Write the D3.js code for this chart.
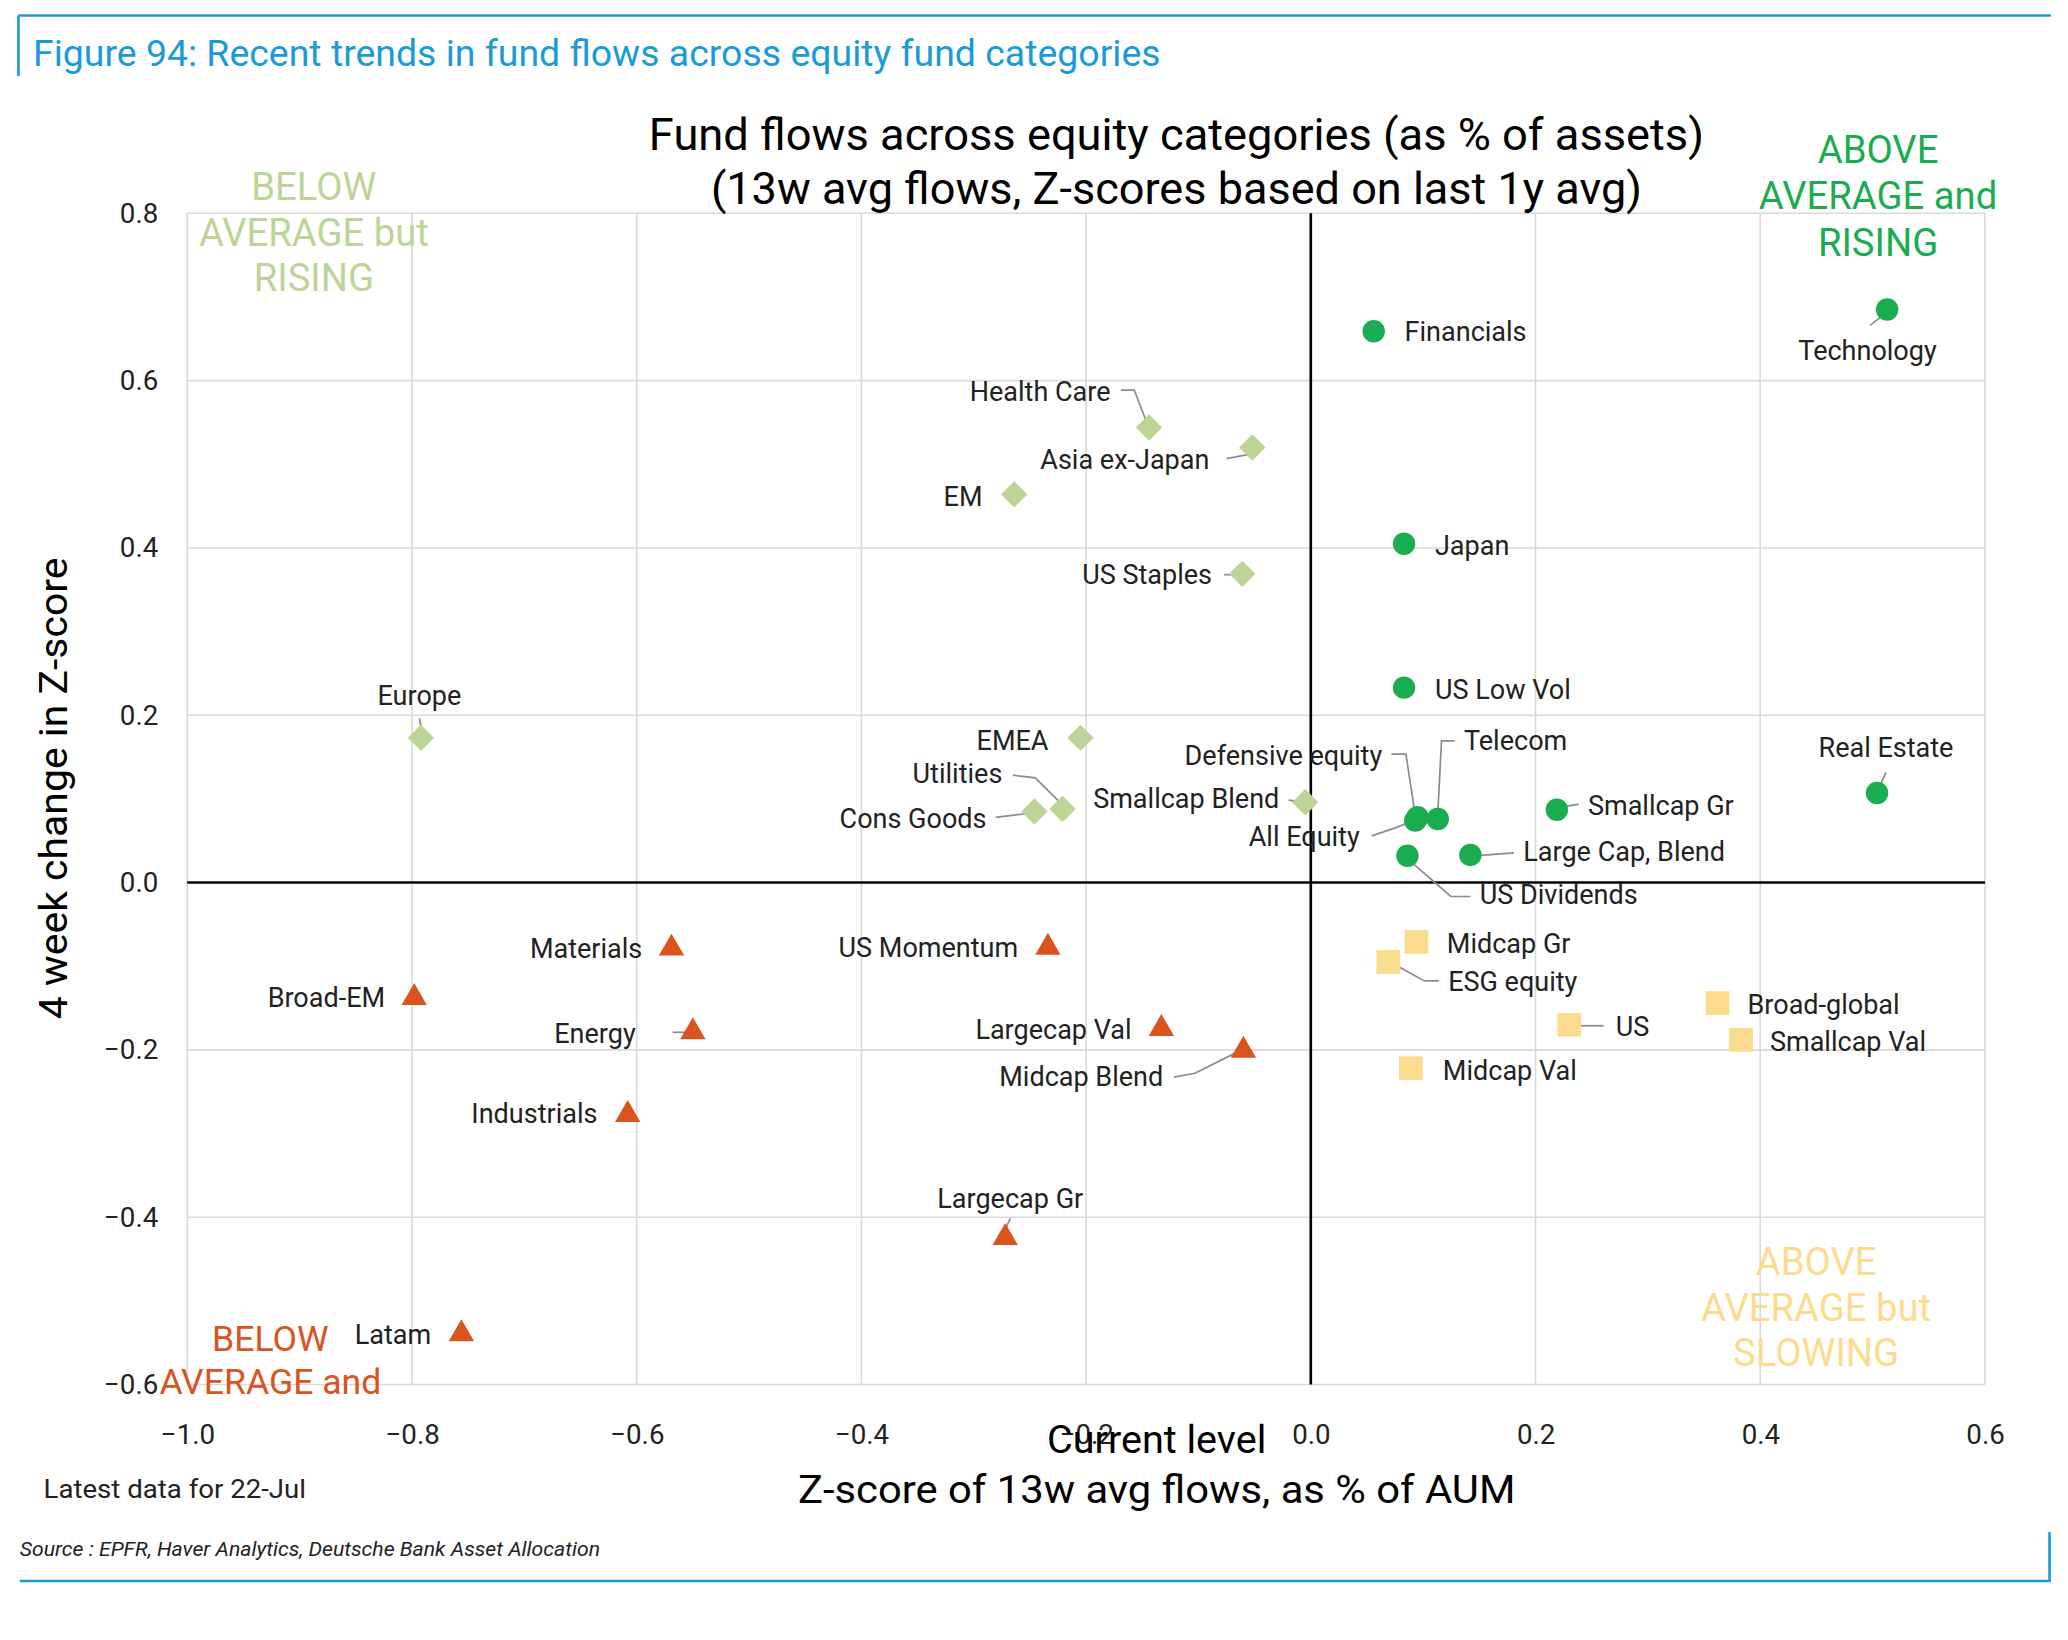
<!DOCTYPE html>
<html><head><meta charset="utf-8">
<script src="https://cdn.jsdelivr.net/npm/d3@7"></script>
<style>body{margin:0;background:#fff}svg{display:block}text{font-family:Roboto,"Liberation Sans",sans-serif}</style>
</head><body>
<script>
// Data: [name, x, y]
const risingAbove = [["Technology",0.513,0.685],["Financials",0.056,0.659],["Japan",0.083,0.405],["US Low Vol",0.083,0.233],["Real Estate",0.504,0.107],["Smallcap Gr",0.219,0.087],["Defensive equity",0.095,0.078],["All Equity",0.093,0.074],["Telecom",0.113,0.076],["Large Cap, Blend",0.142,0.033],["US Dividends",0.086,0.032]];
const risingBelow = [["Health Care",-0.144,0.544],["Asia ex-Japan",-0.052,0.520],["EM",-0.264,0.464],["US Staples",-0.061,0.369],["Europe",-0.792,0.173],["EMEA",-0.205,0.173],["Utilities",-0.221,0.088],["Cons Goods",-0.246,0.085],["Smallcap Blend",-0.005,0.096]];
const fallingBelow = [["Materials",-0.569,-0.077],["US Momentum",-0.234,-0.076],["Broad-EM",-0.798,-0.136],["Energy",-0.550,-0.177],["Largecap Val",-0.133,-0.173],["Midcap Blend",-0.060,-0.199],["Industrials",-0.608,-0.276],["Largecap Gr",-0.272,-0.423],["Latam",-0.756,-0.538]];
const slowingAbove = [["Midcap Gr",0.094,-0.071],["ESG equity",0.069,-0.095],["US",0.230,-0.170],["Broad-global",0.362,-0.144],["Smallcap Val",0.383,-0.188],["Midcap Val",0.089,-0.222]];
const xTicks = [-1.0,-0.8,-0.6,-0.4,-0.2,0.0,0.2,0.4,0.6];
const yTicks = [-0.6,-0.4,-0.2,0.0,0.2,0.4,0.6,0.8];

// label layout: [textX,textY,anchor, leader points...] in px
const lab = {
"Technology":[1416,271,"middle",[[1418,245],[1428,237]]],
"Financials":[1065,257,"start"],
"Japan":[1088,419,"start"],
"US Low Vol":[1088,528,"start"],
"Real Estate":[1430,572,"middle",[[1430,584],[1424,597]]],
"Smallcap Gr":[1204,616,"start",[[1185,610],[1197,608]]],
"Large Cap, Blend":[1155,651,"start",[[1120,647],[1148,645]]],
"US Dividends":[1122,684,"start",[[1068,650],[1100,678],[1115,678]]],
"Telecom":[1110,567,"start",[[1090,618],[1093,560],[1103,560]]],
"Defensive equity":[1048,578,"end",[[1055,570],[1066,570],[1073,616]]],
"All Equity":[1031,640,"end",[[1040,632],[1058,626],[1073,620]]],
"Health Care":[842,302,"end",[[850,294],[860,294],[870,320]]],
"Asia ex-Japan":[917,354,"end",[[930,346],[946,343]]],
"EM":[745,382,"end"],
"US Staples":[919,441,"end",[[928,434],[940,434]]],
"Europe":[318,533,"middle",[[318,543],[320,554]]],
"EMEA":[795,567,"end"],
"Utilities":[760,592,"end",[[768,586],[785,588],[805,608]]],
"Cons Goods":[748,626,"end",[[755,618],[780,615]]],
"Smallcap Blend":[970,611,"end",[[977,605],[986,606]]],
"Materials":[487,725,"end"],
"US Momentum":[772,724,"end"],
"Broad-EM":[292,762,"end"],
"Energy":[482,789,"end",[[510,781],[521,781]]],
"Largecap Val":[858,786,"end"],
"Midcap Blend":[882,822,"end",[[890,815],[906,812],[938,796]]],
"Industrials":[453,850,"end"],
"Largecap Gr":[766,914,"middle",[[766,922],[762,931]]],
"Latam":[327,1017,"end"],
"Midcap Gr":[1097,721,"start"],
"ESG equity":[1098,750,"start",[[1058,730],[1080,742],[1091,742]]],
"US":[1225,784,"start",[[1198,776],[1216,776]]],
"Broad-global":[1325,767,"start"],
"Smallcap Val":[1342,795,"start"],
"Midcap Val":[1094,817,"start"]
};

const W=1568,H=1240;
const svg=d3.select("body").append("svg").attr("width",2068).attr("height",1640).attr("viewBox",`0 0 ${W} ${H}`);
const x=d3.scaleLinear().domain([-1,0.6]).range([142,1505]);
const y=d3.scaleLinear().domain([-0.6,0.8]).range([1048,160]);
const blue="#1a9bd7";
svg.append("line").attr("x1",14).attr("x2",1555).attr("y1",10).attr("y2",10).attr("stroke",blue).attr("stroke-width",2);
svg.append("line").attr("x1",14).attr("x2",14).attr("y1",10).attr("y2",56).attr("stroke",blue).attr("stroke-width",2);
svg.append("line").attr("x1",15).attr("x2",1555).attr("y1",1197).attr("y2",1197).attr("stroke",blue).attr("stroke-width",2);
svg.append("line").attr("x1",1554).attr("x2",1554).attr("y1",1160).attr("y2",1197).attr("stroke",blue).attr("stroke-width",2);
svg.append("text").attr("x",25).attr("y",48).attr("fill",blue).attr("font-size",27.5).attr("textLength",855).attr("lengthAdjust","spacingAndGlyphs").text("Figure 94: Recent trends in fund flows across equity fund categories");

svg.append("g").selectAll("line").data(xTicks).join("line").attr("x1",d=>x(d)).attr("x2",d=>x(d)).attr("y1",y(0.8)).attr("y2",y(-0.6)).attr("stroke","#d9d9d9").attr("stroke-width",1.2);
svg.append("g").selectAll("line").data(yTicks).join("line").attr("y1",d=>y(d)).attr("y2",d=>y(d)).attr("x1",x(-1)).attr("x2",x(0.6)).attr("stroke","#d9d9d9").attr("stroke-width",1.2);
svg.append("line").attr("x1",x(0)).attr("x2",x(0)).attr("y1",y(0.8)).attr("y2",y(-0.6)).attr("stroke","#000").attr("stroke-width",2);
svg.append("line").attr("y1",y(0)).attr("y2",y(0)).attr("x1",x(-1)).attr("x2",x(0.6)).attr("stroke","#000").attr("stroke-width",2);
const xa=svg.append("g").attr("transform",`translate(0,${y(-0.6)})`).call(d3.axisBottom(x).tickValues(xTicks).tickFormat(d3.format(".1f")).tickSize(0).tickPadding(30));
const ya=svg.append("g").attr("transform",`translate(${x(-1)},0)`).call(d3.axisLeft(y).tickValues(yTicks).tickFormat(d3.format(".1f")).tickSize(0).tickPadding(22));
[xa,ya].forEach(a=>{a.select(".domain").remove();a.selectAll("text").attr("font-size",21).attr("fill","#222").attr("font-family","Roboto");});

svg.append("text").attr("x",892).attr("y",112).attr("text-anchor","middle").attr("font-size",33.5).attr("textLength",800).attr("lengthAdjust","spacingAndGlyphs").text("Fund flows across equity categories (as % of assets)");
svg.append("text").attr("x",892).attr("y",153).attr("text-anchor","middle").attr("font-size",33.5).attr("textLength",706).attr("lengthAdjust","spacingAndGlyphs").text("(13w avg flows, Z-scores based on last 1y avg)");
svg.append("text").attr("x",877).attr("y",1100).attr("text-anchor","middle").attr("font-size",30).text("Current level");
svg.append("text").attr("x",877).attr("y",1138).attr("text-anchor","middle").attr("font-size",30).attr("textLength",544).attr("lengthAdjust","spacingAndGlyphs").text("Z-score of 13w avg flows, as % of AUM");
svg.append("text").attr("transform","translate(51,596) rotate(-90)").attr("text-anchor","middle").attr("font-size",30).attr("textLength",350).attr("lengthAdjust","spacingAndGlyphs").text("4 week change in Z-score");
svg.append("text").attr("x",33).attr("y",1134).attr("font-size",20).attr("fill","#222").attr("textLength",199).attr("lengthAdjust","spacingAndGlyphs").text("Latest data for 22-Jul");
svg.append("text").attr("x",15).attr("y",1178).attr("font-size",15.5).attr("font-style","italic").attr("fill","#222").attr("textLength",440).attr("lengthAdjust","spacingAndGlyphs").text("Source : EPFR, Haver Analytics, Deutsche Bank Asset Allocation");

function ql(lines,cx,ys,col,fs){lines.forEach((t,i)=>svg.append("text").attr("x",cx).attr("y",ys[i]).attr("text-anchor","middle").attr("font-size",fs||29).attr("fill",col).text(t));}
const cG="#1aad4f",cL="#bcd597",cO="#d9541e",cY="#fbdc8e";
ql(["BELOW","AVERAGE but","RISING"],238,[150,185,219],cL);
ql(["ABOVE","AVERAGE and","RISING"],1424,[122,157,192],cG);
ql(["ABOVE","AVERAGE but","SLOWING"],1377,[965,1000,1034],cY);
ql(["BELOW","AVERAGE and"],205,[1023,1055],cO,27);

function labels(data){
  data.forEach(d=>{const L=lab[d[0]];if(!L)return;
    if(L[3]) svg.append("path").attr("d",d3.line()(L[3])).attr("fill","none").attr("stroke","#8c8c8c").attr("stroke-width",1.3);
    svg.append("text").attr("x",L[0]).attr("y",L[1]).attr("text-anchor",L[2]).attr("font-size",20.5).attr("fill","#222").text(d[0]);
  });
}
[risingAbove,risingBelow,fallingBelow,slowingAbove].forEach(labels);

svg.append("g").selectAll("circle").data(risingAbove).join("circle").attr("cx",d=>x(d[1])).attr("cy",d=>y(d[2])).attr("r",8.5).attr("fill",cG);
svg.append("g").selectAll("path").data(risingBelow).join("path").attr("transform",d=>`translate(${x(d[1])},${y(d[2])}) rotate(45)`).attr("d",d3.symbol(d3.symbolSquare,200)).attr("fill",cL);
svg.append("g").selectAll("path").data(fallingBelow).join("path").attr("transform",d=>`translate(${x(d[1])},${y(d[2])+1})`).attr("d",d3.symbol(d3.symbolTriangle,160)).attr("fill",cO);
svg.append("g").selectAll("rect").data(slowingAbove).join("rect").attr("x",d=>x(d[1])-9).attr("y",d=>y(d[2])-9).attr("width",18).attr("height",18).attr("fill",cY);
</script>
</body></html>
